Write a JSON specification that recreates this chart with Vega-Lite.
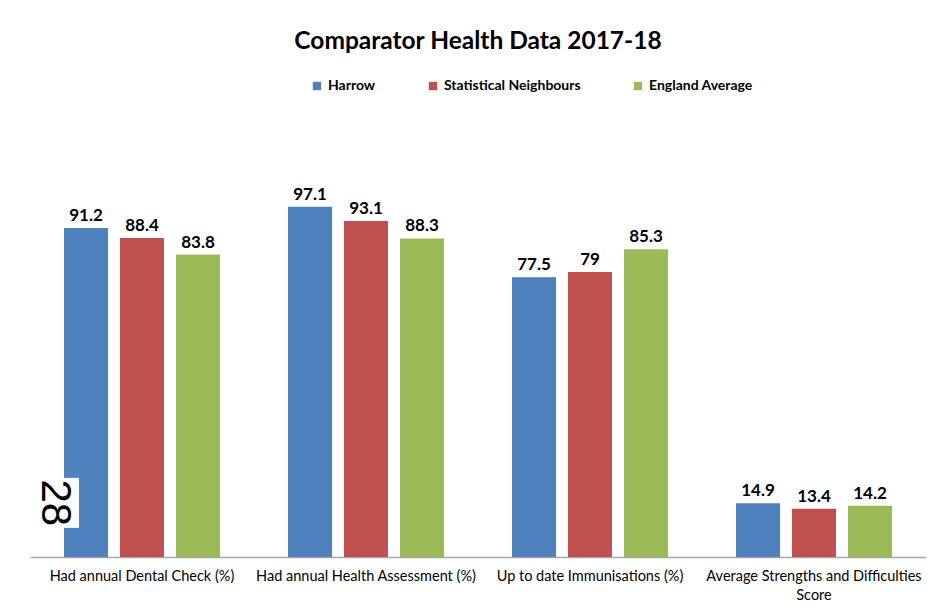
{
  "$schema": "https://vega.github.io/schema/vega-lite/v6.json",
  "width": 896,
  "height": 433,
  "autosize": {"type": "none"},
  "padding": {"left": 30, "top": 124, "right": 17, "bottom": 54},
  "background": "white",
  "title": {
    "text": "Comparator Health Data 2017-18",
    "font": "Lato",
    "fontSize": 24.5,
    "fontWeight": "bold",
    "color": "black",
    "anchor": "middle",
    "offset": 25
  },
  "config": {"view": {"stroke": null}},
  "datasets": {
    "bars": [
      {"category": "Had annual Dental Check (%)", "series": "Harrow", "value": 91.2},
      {"category": "Had annual Dental Check (%)", "series": "Statistical Neighbours", "value": 88.4},
      {"category": "Had annual Dental Check (%)", "series": "England Average", "value": 83.8},
      {"category": "Had annual Health Assessment (%)", "series": "Harrow", "value": 97.1},
      {"category": "Had annual Health Assessment (%)", "series": "Statistical Neighbours", "value": 93.1},
      {"category": "Had annual Health Assessment (%)", "series": "England Average", "value": 88.3},
      {"category": "Up to date Immunisations  (%)", "series": "Harrow", "value": 77.5},
      {"category": "Up to date Immunisations  (%)", "series": "Statistical Neighbours", "value": 79},
      {"category": "Up to date Immunisations  (%)", "series": "England Average", "value": 85.3},
      {"category": "Average Strengths and Difficulties Score", "series": "Harrow", "value": 14.9},
      {"category": "Average Strengths and Difficulties Score", "series": "Statistical Neighbours", "value": 13.4},
      {"category": "Average Strengths and Difficulties Score", "series": "England Average", "value": 14.2}
    ],
    "note": [
      {"category": "Had annual Dental Check (%)", "series": "Harrow", "value": 15, "label": "28"}
    ]
  },
  "encoding": {
    "x": {
      "field": "category",
      "type": "nominal",
      "sort": null,
      "scale": {"domain": ["Had annual Dental Check (%)", "Had annual Health Assessment (%)", "Up to date Immunisations  (%)", "Average Strengths and Difficulties Score"], "paddingInner": 0, "paddingOuter": 0},
      "axis": {
        "title": null,
        "labelAngle": 0,
        "labelFont": "Lato",
        "labelFontSize": 14.5,
        "labelColor": "black",
        "labelPadding": 12,
        "labelLimit": 0,
        "labelLineHeight": 19,
        "ticks": false,
        "domainColor": "#a6a6a6",
        "domainWidth": 1.5,
        "labelExpr": "datum.label == 'Average Strengths and Difficulties Score' ? ['Average Strengths and Difficulties', 'Score'] : datum.label"
      }
    },
    "xOffset": {
      "field": "series",
      "type": "nominal",
      "sort": null,
      "scale": {"domain": ["Harrow", "Statistical Neighbours", "England Average"], "paddingInner": 0.214, "paddingOuter": 0.607}
    },
    "y": {
      "field": "value",
      "type": "quantitative",
      "scale": {"domain": [0, 120]},
      "axis": null
    }
  },
  "layer": [
    {
      "data": {"name": "bars"},
      "mark": {"type": "bar"},
      "encoding": {
        "color": {
          "field": "series",
          "type": "nominal",
          "sort": null,
          "scale": {"domain": ["Harrow", "Statistical Neighbours", "England Average"], "range": ["#4F81BD", "#C0504D", "#9BBB59"]},
          "legend": {
            "title": null,
            "orient": "none",
            "legendX": 280,
            "legendY": -45,
            "direction": "horizontal",
            "symbolType": "square",
            "symbolSize": 70,
            "symbolStrokeWidth": 0,
            "labelFont": "Lato",
            "labelFontSize": 14,
            "labelFontWeight": "bold",
            "labelColor": "black",
            "columnPadding": 50
          }
        }
      }
    },
    {
      "data": {"name": "bars"},
      "mark": {"type": "text", "font": "Lato", "fontSize": 17, "fontWeight": "bold", "color": "black", "baseline": "alphabetic", "dy": -7},
      "encoding": {"text": {"field": "value", "type": "quantitative"}}
    },
    {
      "data": {"name": "note"},
      "mark": {"type": "point", "shape": "M-0.96,-1H-0.28V1H-0.96Z", "size": 2500, "filled": true, "color": "white", "opacity": 1, "strokeWidth": 0}
    },
    {
      "data": {"name": "note"},
      "mark": {"type": "text", "font": "Liberation Sans", "fontSize": 42, "angle": 90, "color": "black", "align": "center", "baseline": "middle", "dy": 31},
      "encoding": {"text": {"field": "label"}}
    }
  ]
}
